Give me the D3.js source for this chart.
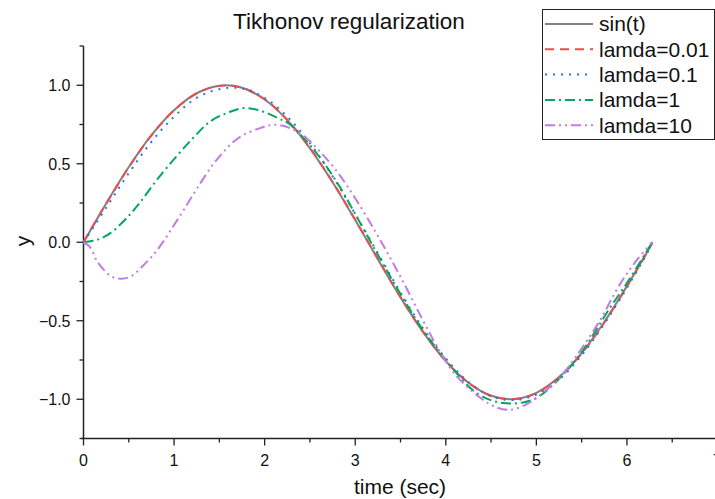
<!DOCTYPE html>
<html><head><meta charset="utf-8">
<script src="https://cdn.jsdelivr.net/npm/d3@7"></script>
<style>body{margin:0;background:#fff}svg{display:block}</style>
</head><body>
<svg id="c" width="715" height="499"></svg>
<script>
// ---- data ----
const seriesNames = ["sin(t)", "lamda=0.01", "lamda=0.1", "lamda=1", "lamda=10"];
const tSin = [0,0.25,0.5,0.75,1,1.25,1.5,1.75,2,2.25,2.5,2.75,3,3.25,3.5,3.75,4,4.25,4.5,4.75,5,5.25,5.5,5.75,6,6.25,6.28];
const ySin = [0,0.247,0.479,0.682,0.841,0.949,0.997,0.984,0.909,0.778,0.598,0.382,0.141,-0.108,-0.351,-0.572,-0.757,-0.895,-0.978,-0.999,-0.959,-0.859,-0.706,-0.508,-0.279,-0.033,0];
const tL001 = tSin;
const yL001 = [0,0.245,0.477,0.680,0.840,0.948,0.996,0.985,0.911,0.780,0.600,0.385,0.144,-0.105,-0.349,-0.571,-0.756,-0.895,-0.978,-1.0,-0.961,-0.861,-0.709,-0.511,-0.282,-0.036,0];
const tL01 = tSin;
const yL01 = [0,0.22,0.44,0.64,0.80,0.92,0.975,0.98,0.92,0.80,0.63,0.42,0.18,-0.07,-0.32,-0.55,-0.74,-0.89,-0.98,-1.005,-0.97,-0.875,-0.72,-0.52,-0.29,-0.04,0];
const tL1 = [0,0.15,0.3,0.51,0.62,0.8,1.01,1.21,1.4,1.6,1.78,1.98,2.15,2.28,2.57,2.8,3.0,3.25,3.5,3.75,4.0,4.34,4.63,4.96,5.25,5.5,5.81,6.0,6.28];
const yL1 = [0,0.015,0.06,0.175,0.25,0.39,0.536,0.664,0.77,0.827,0.855,0.833,0.79,0.75,0.57,0.38,0.18,-0.08,-0.33,-0.56,-0.75,-0.96,-1.024,-1.003,-0.87,-0.70,-0.42,-0.26,0];
const tL10 = [0,0.07,0.16,0.31,0.42,0.53,0.69,0.8,0.9,1.0,1.1,1.25,1.47,1.71,1.95,2.1,2.28,2.46,2.61,2.8,3.0,3.25,3.5,3.75,3.9,4.1,4.38,4.55,4.71,4.9,5.07,5.25,5.41,5.52,5.7,5.92,6.1,6.28];
const yL10 = [0,-0.03,-0.13,-0.218,-0.232,-0.215,-0.13,-0.06,0.02,0.11,0.20,0.34,0.525,0.664,0.727,0.748,0.727,0.664,0.578,0.45,0.28,0.04,-0.22,-0.50,-0.66,-0.84,-0.99,-1.05,-1.067,-1.03,-0.96,-0.87,-0.75,-0.66,-0.50,-0.27,-0.12,0];
const xTicks = [0,1,2,3,4,5,6,7];
const yTicks = [-1.0,-0.5,0.0,0.5,1.0];

const series = [
  {name: seriesNames[0], t: tSin, y: ySin, color: "#808080", dash: null},
  {name: seriesNames[1], t: tL001, y: yL001, color: "#f24b4b", dash: "9,6"},
  {name: seriesNames[2], t: tL01, y: yL01, color: "#1f78e6", dash: "2,6"},
  {name: seriesNames[3], t: tL1, y: yL1, color: "#00a85a", dash: "10,4,2,4"},
  {name: seriesNames[4], t: tL10, y: yL10, color: "#c27be6", dash: "10,4,2,4,2,4"}
];

const svg = d3.select("#c");
const font = "Liberation Sans, Arial, sans-serif";
const x = d3.scaleLinear().domain([0,7]).range([83.5,717.5]);
const y = d3.scaleLinear().domain([-1.25,1.25]).range([438.5,46]);

// axes
const axisColor = "#222";
const xAxis = svg.append("g").attr("transform","translate(0,438.5)");
xAxis.append("line").attr("x1",x(0)-2).attr("x2",715).attr("y1",0).attr("y2",0).attr("stroke",axisColor).attr("stroke-width",1.5);
d3.range(0,7.01,0.5).forEach(v=>{
  const major = Math.abs(v-Math.round(v))<1e-6;
  xAxis.append("line").attr("x1",x(v)).attr("x2",x(v)).attr("y1",0).attr("y2",major?7:4).attr("stroke",axisColor).attr("stroke-width",1.3);
});
xAxis.selectAll("text.tk").data(xTicks).join("text").attr("class","tk")
  .attr("x",d=>x(d)).attr("y",27).attr("text-anchor","middle")
  .attr("font-family",font).attr("font-size",16).attr("fill","#111").text(d=>d3.format("d")(d));

const yAxis = svg.append("g").attr("transform","translate(83.5,0)");
yAxis.append("line").attr("x1",0).attr("x2",0).attr("y1",y(1.25)).attr("y2",y(-1.25)).attr("stroke",axisColor).attr("stroke-width",1.5);
d3.range(-1.25,1.26,0.25).forEach(v=>{
  const major = Math.abs(v*2-Math.round(v*2))<1e-6;
  yAxis.append("line").attr("x1",0).attr("x2",major?-7:-4).attr("y1",y(v)).attr("y2",y(v)).attr("stroke",axisColor).attr("stroke-width",1.3);
});
yAxis.selectAll("text.tk").data(yTicks).join("text").attr("class","tk")
  .attr("x",-13).attr("y",d=>y(d)).attr("dy","0.36em").attr("text-anchor","end")
  .attr("font-family",font).attr("font-size",16).attr("fill","#111")
  .text(d=>d3.format(".1f")(d).replace("-","\u2212"));

// titles
svg.append("text").attr("x",349).attr("y",29).attr("text-anchor","middle")
  .attr("font-family",font).attr("font-size",22.5).attr("fill","#111").text("Tikhonov regularization");
svg.append("text").attr("x",400).attr("y",494).attr("text-anchor","middle")
  .attr("font-family",font).attr("font-size",21).attr("fill","#111").text("time (sec)");
svg.append("text").attr("transform","translate(30,241) rotate(-90)").attr("text-anchor","middle")
  .attr("font-family",font).attr("font-size",21).attr("fill","#111").text("y");

// lines
const line = d3.line().x(d=>x(d[0])).y(d=>y(d[1])).curve(d3.curveCatmullRom.alpha(0.5));
series.forEach(s=>{
  const pts = s.t.map((t,i)=>[t,s.y[i]]);
  svg.append("path").attr("d",line(pts)).attr("fill","none").attr("stroke",s.color)
    .attr("stroke-width",2).attr("stroke-dasharray",s.dash).attr("stroke-linecap","butt");
});

// legend
const lg = svg.append("g");
lg.append("rect").attr("x",542.5).attr("y",9.5).attr("width",172).attr("height",130)
  .attr("fill","#fff").attr("stroke","#222").attr("stroke-width",1);
series.forEach((s,i)=>{
  const cy = 24 + i*25.3;
  lg.append("line").attr("x1",545).attr("x2",593).attr("y1",cy).attr("y2",cy)
    .attr("stroke",s.color).attr("stroke-width",2).attr("stroke-dasharray",s.dash);
  lg.append("text").attr("x",599).attr("y",cy).attr("dy","0.35em")
    .attr("font-family",font).attr("font-size",21).attr("fill","#111").text(s.name);
});
</script>
</body></html>
